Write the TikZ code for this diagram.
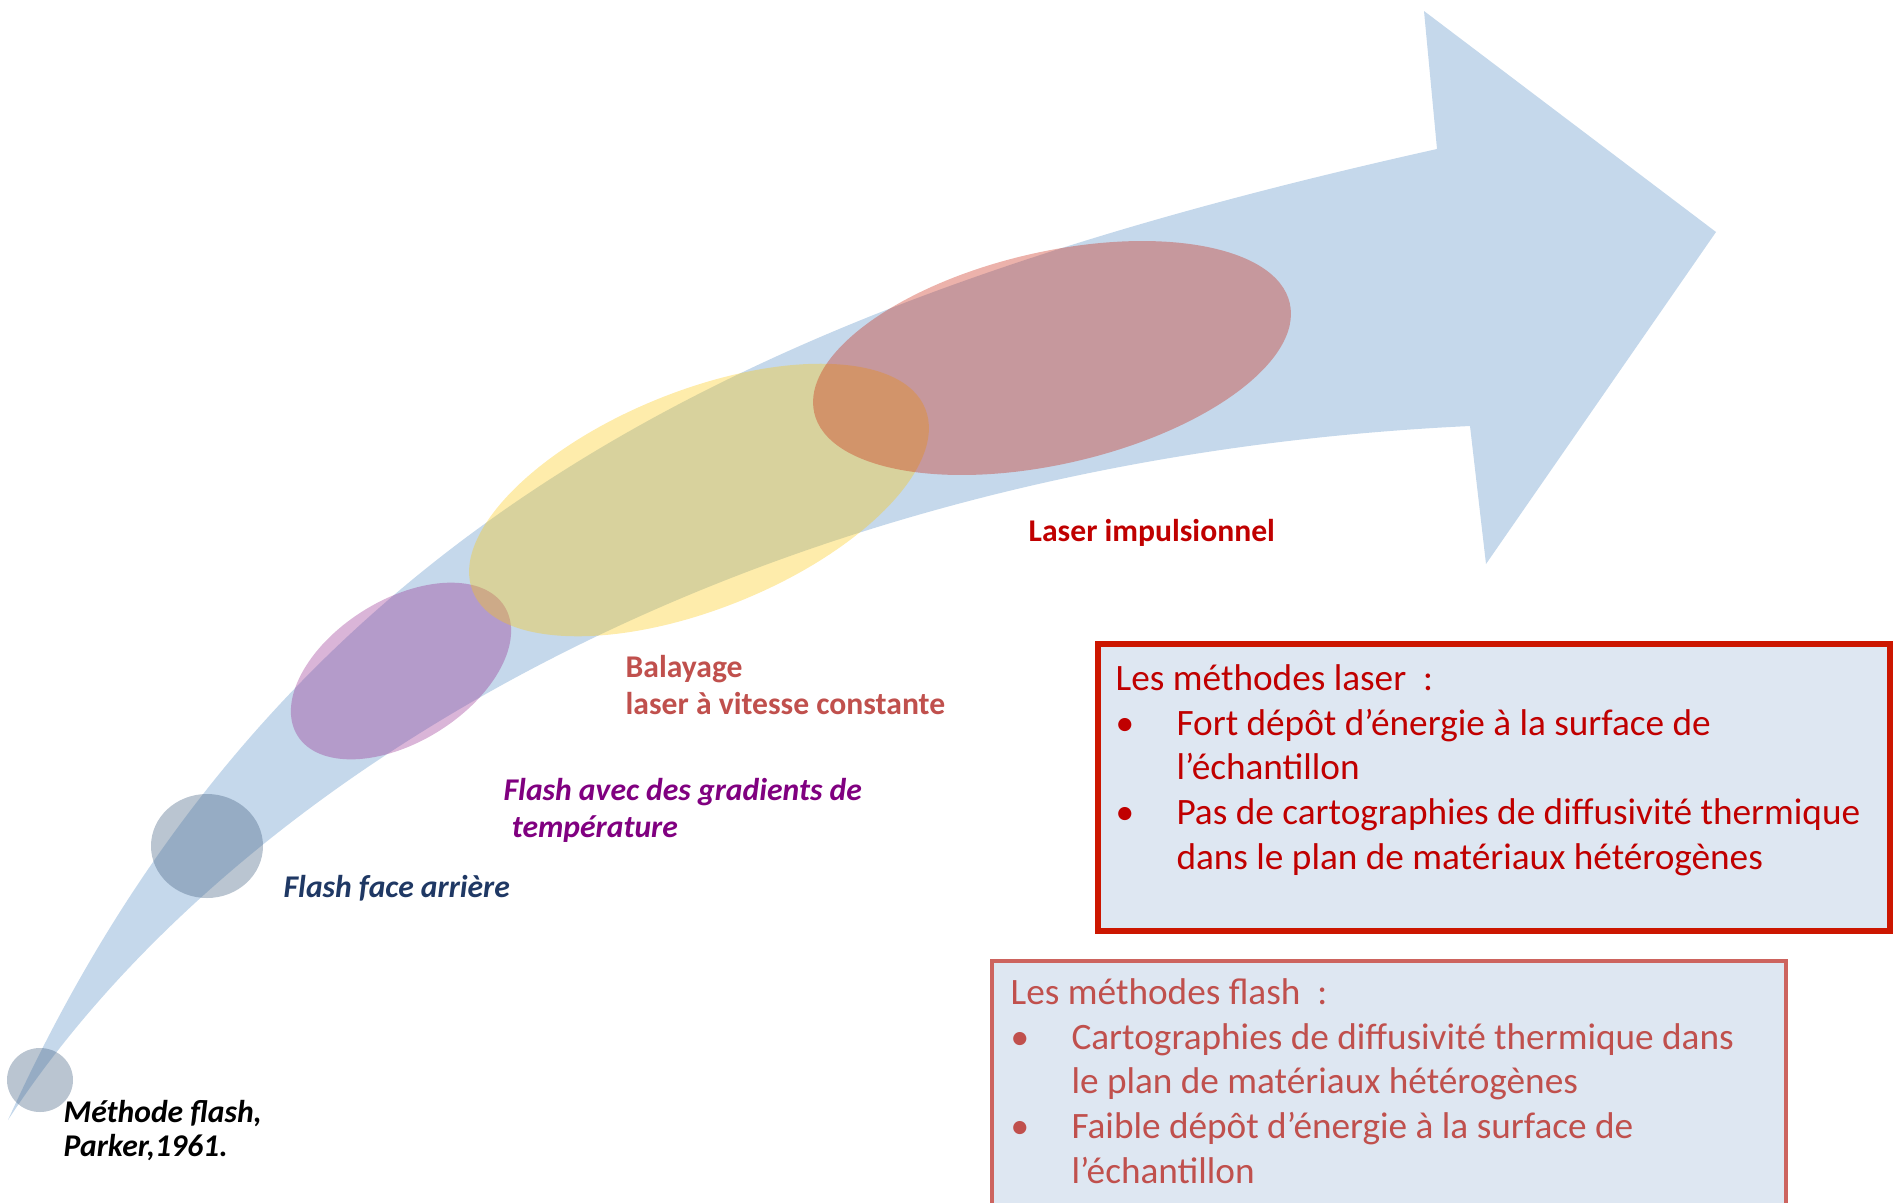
\documentclass[tikz,border=0pt]{standalone}
\usepackage{fontspec}
\setmainfont{Carlito}
\usepackage{tikz}

\definecolor{arrowblue}{RGB}{197,216,235}
\definecolor{greyblue}{RGB}{76,105,136}
\definecolor{ellpurple}{RGB}{149,43,142}
\definecolor{ellyellow}{RGB}{252,200,13}
\definecolor{ellred}{RGB}{201,34,13}
\definecolor{laserred}{RGB}{192,0,0}
\definecolor{flashred}{RGB}{192,80,77}
\definecolor{gradpurple}{RGB}{128,0,128}
\definecolor{rearblue}{RGB}{31,56,100}
\definecolor{laserframe}{RGB}{204,22,0}
\definecolor{flashframe}{RGB}{205,100,95}
\definecolor{boxfill}{RGB}{222,231,242}

\newcommand{\labelfont}{\bfseries\fontsize{9}{10.4}\selectfont}
\newcommand{\bulitem}{\makebox[17.3pt][l]{•}}
\newcommand{\contline}{\hspace*{17.3pt}}

\begin{document}
\begin{tikzpicture}[x=0.1mm,y=-0.1mm]

	% multi-line nodes: base is the baseline of the last line
	\tikzstyle method label=[anchor=base west, align=left, inner sep=0pt, font=\labelfont];
	\tikzstyle box text=[anchor=base west, align=left, inner sep=0pt, font=\fontsize{10.6}{12.7}\selectfont];

	\useasboundingbox (0,0) rectangle (1897,1202);
	\clip (0,0) rectangle (1897,1202);

	% curved arrow
	\fill[arrowblue] (8,1120) .. controls (280,520) and (760,300) .. (1437,149)
		-- (1424,11) -- (1716,232) -- (1486,564) -- (1470,426)
		.. controls (750,460) and (230,780) .. (8,1120) -- cycle;

	% spots along the arrow
	\foreach \cx/\cy/\rx/\ry/\ang/\col/\op in {40/1080/33/32/0/greyblue/.39,
		207/846/56/52/0/greyblue/.39, 401/671/122/71/32/ellpurple/.35,
		699/500/244/109/22/ellyellow/.35, 1052/358/244/106/13/ellred/.35}
		\fill[\col, opacity=\op, rotate around={\ang:(\cx,\cy)}] (\cx,\cy) ellipse [x radius=\rx, y radius=\ry];

	\node[method label, font=\bfseries\itshape\fontsize{9}{9.5}\selectfont] (parker) at (63,1156) {Méthode flash,\\Parker,1961.};
	\node[method label, font=\labelfont\itshape, text=rearblue] (rearface) at (283,897) {Flash face arrière};
	\node[method label, font=\labelfont\itshape, text=gradpurple] (gradients) at (503,837) {Flash avec des gradients de\\\hspace*{2.3pt}température};
	\node[method label, text=flashred] (scanning) at (625,714) {Balayage\\laser à vitesse constante};
	\node[method label, text=laserred] (pulsed) at (1028,541) {Laser impulsionnel};

	% boxes
	\draw[line width=1.7pt, draw=laserframe, fill=boxfill] (1098,644) rectangle (1890,931);
	\node[box text, text=laserred] (lasertext) at (1115,869) {Les méthodes laser\ \ :\\
		\bulitem Fort dépôt d’énergie à la surface de\\
		\contline l’échantillon\\
		\bulitem Pas de cartographies de diffusivité thermique\\
		\contline dans le plan de matériaux hétérogènes};

	\draw[line width=1.2pt, draw=flashframe, fill=boxfill] (992,961) rectangle (1786,1215);
	\node[box text, text=flashred] (flashtext) at (1010,1183) {Les méthodes flash\ \ :\\
		\bulitem Cartographies de diffusivité thermique dans\\
		\contline le plan de matériaux hétérogènes\\
		\bulitem Faible dépôt d’énergie à la surface de\\
		\contline l’échantillon};

\end{tikzpicture}
\end{document}
